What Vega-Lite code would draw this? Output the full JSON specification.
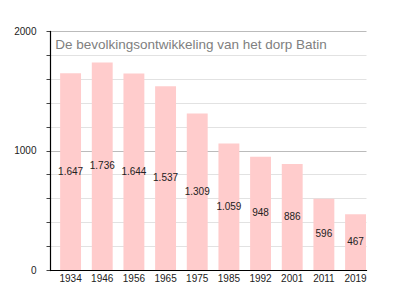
{
  "$schema": "https://vega.github.io/schema/vega-lite/v6.json",
  "autosize": "none",
  "width": 316,
  "height": 239,
  "padding": {"left": 50, "top": 31, "right": 29, "bottom": 30},
  "background": "white",
  "data": {
    "values": [
      {"year": "1934", "pop": 1647, "label": "1.647"},
      {"year": "1946", "pop": 1736, "label": "1.736"},
      {"year": "1956", "pop": 1644, "label": "1.644"},
      {"year": "1965", "pop": 1537, "label": "1.537"},
      {"year": "1975", "pop": 1309, "label": "1.309"},
      {"year": "1985", "pop": 1059, "label": "1.059"},
      {"year": "1992", "pop": 948, "label": "948"},
      {"year": "2001", "pop": 886, "label": "886"},
      {"year": "2011", "pop": 596, "label": "596"},
      {"year": "2019", "pop": 467, "label": "467"}
    ]
  },
  "encoding": {
    "x": {
      "field": "year",
      "type": "nominal",
      "sort": null,
      "scale": {"paddingInner": 0.34, "paddingOuter": 0.16, "align": 1},
      "axis": {
        "title": null,
        "labelAngle": 0,
        "ticks": false,
        "labelPadding": 3,
        "labelFontSize": 10,
        "labelFont": "Liberation Sans",
        "labelColor": "#222222",
        "domainColor": "#000000",
        "domainWidth": 1.2,
        "grid": false
      }
    }
  },
  "layer": [
    {
      "mark": {"type": "bar", "color": "#ffcccc"},
      "encoding": {
        "y": {
          "field": "pop",
          "type": "quantitative",
          "scale": {"domain": [0, 2000], "nice": false},
          "axis": {
            "title": null,
            "values": [0, 200, 400, 600, 800, 1000, 1200, 1400, 1600, 1800, 2000],
            "labelExpr": "datum.value % 1000 === 0 ? datum.value : ''",
            "labelFontSize": 10,
            "labelFont": "Liberation Sans",
            "labelColor": "#222222",
            "labelPadding": 10,
            "tickSize": 4,
            "tickColor": "#444444",
            "domainColor": "#000000",
            "domainWidth": 1.2,
            "grid": true,
            "gridColor": {"condition": {"test": "datum.value % 1000 === 0", "value": "#bbbbbb"}, "value": "#e2e2e2"}
          }
        }
      }
    },
    {
      "mark": {"type": "text", "baseline": "middle", "align": "center", "fontSize": 10, "font": "Liberation Sans", "color": "#222222"},
      "encoding": {
        "y": {
          "field": "pop",
          "type": "quantitative",
          "scale": {"domain": [0, 4000], "nice": false},
          "axis": null
        },
        "text": {"field": "label"}
      }
    },
    {
      "data": {"values": [{"title": "De bevolkingsontwikkeling van het dorp Batin"}]},
      "mark": {"type": "text", "align": "left", "baseline": "alphabetic", "dx": -5, "fontSize": 13.5, "font": "Liberation Sans", "color": "#808080"},
      "encoding": {
        "x": {"datum": "1934", "bandPosition": 0},
        "y": {"datum": 1850, "type": "quantitative", "scale": {"domain": [0, 2000], "nice": false}, "axis": null},
        "text": {"field": "title"}
      }
    }
  ],
  "resolve": {"scale": {"y": "independent"}},
  "config": {
    "view": {"stroke": null},
    "axis": {"domainCap": "square"}
  }
}
